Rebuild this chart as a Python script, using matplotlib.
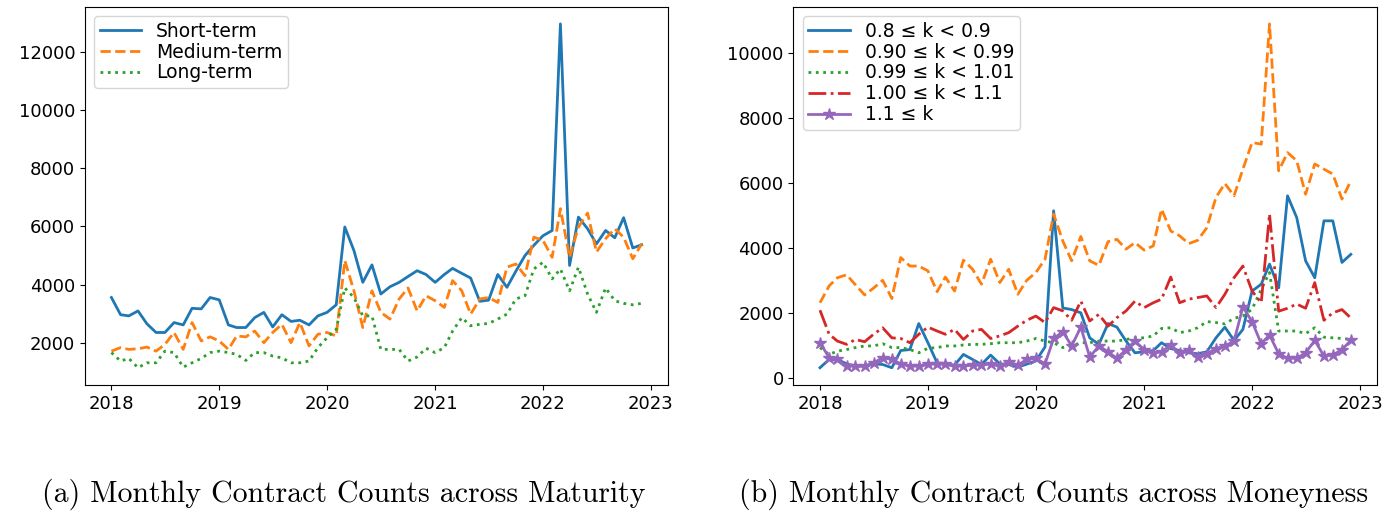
import matplotlib
matplotlib.use("Agg")
import matplotlib.pyplot as plt
import matplotlib.dates as mdates
import pandas as pd

months = pd.date_range("2018-01-01", periods=60, freq="MS")

# Panel (a): counts by maturity
short_term = [3560, 2970, 2930, 3100, 2660, 2360, 2360, 2700, 2620, 3190, 3170, 3560,
              3480, 2620, 2530, 2530, 2870, 3050, 2550, 2970, 2740, 2780, 2620, 2930,
              3050, 3310, 5980, 5170, 4080, 4680, 3680, 3930, 4080, 4280, 4480, 4350,
              4080, 4350, 4560, 4390, 4230, 3430, 3470, 4350, 3910, 4460, 5000, 5350,
              5680, 5860, 12950, 4660, 6320, 5920, 5400, 5860, 5610, 6300, 5260, 5370]
medium_term = [1720, 1840, 1780, 1800, 1860, 1720, 1950, 2360, 1780, 2700, 2070, 2210,
               2070, 1780, 2240, 2210, 2410, 2010, 2360, 2640, 2010, 2700, 1900, 2300,
               2360, 2240, 4830, 3790, 2530, 3790, 3050, 2820, 3510, 3890, 3100, 3620,
               3450, 3220, 4140, 3790, 2990, 3510, 3560, 3390, 4600, 4710, 4310, 5630,
               5520, 4940, 6610, 4940, 5980, 6460, 5120, 5580, 5920, 5630, 4890, 5400]
long_term = [1670, 1380, 1470, 1150, 1320, 1320, 1720, 1670, 1170, 1320, 1470, 1670,
             1720, 1670, 1610, 1400, 1670, 1670, 1550, 1490, 1320, 1320, 1380, 1840,
             2180, 2470, 3890, 3560, 2930, 2930, 1780, 1780, 1780, 1380, 1520, 1820,
             1670, 1840, 2410, 2870, 2590, 2640, 2670, 2820, 2990, 3510, 3620, 4540,
             4770, 4200, 4540, 3790, 4600, 3680, 3050, 3890, 3450, 3360, 3310, 3360]

# Panel (b): counts by moneyness
k_080_090 = [310, 565, 565, 430, 360, 360, 430, 410, 310, 840, 870, 1670,
             1080, 460, 430, 390, 720, 565, 410, 700, 430, 410, 330, 420,
             520, 950, 5140, 2150, 2100, 2000, 1230, 1030, 1670, 1560, 1130, 770,
             800, 840, 1080, 900, 840, 770, 740, 800, 1230, 1560, 1150, 1490,
             2670, 2880, 3500, 2770, 5600, 4930, 3600, 3080, 4830, 4830, 3550, 3800]
k_090_099 = [2310, 2830, 3080, 3170, 2860, 2550, 2760, 3000, 2440, 3700, 3440, 3440,
             3290, 2650, 3100, 2670, 3620, 3340, 2880, 3650, 2930, 3340, 2570, 3000,
             3240, 3650, 5040, 4210, 3600, 4350, 3600, 3460, 4190, 4260, 3960, 4160,
             3930, 4060, 5190, 4520, 4370, 4130, 4230, 4620, 5550, 5980, 5600, 6420,
             7240, 7190, 10890, 6370, 6930, 6680, 5650, 6580, 6420, 6270, 5500, 6060]
k_099_101 = [930, 720, 820, 870, 930, 980, 980, 1050, 930, 930, 870, 770,
             910, 930, 980, 980, 1010, 1030, 1030, 1050, 1080, 1080, 1080, 1130,
             1210, 1130, 1080, 930, 980, 1080, 1080, 1130, 1130, 1130, 1180, 1230,
             1230, 1290, 1520, 1540, 1390, 1440, 1540, 1730, 1700, 1660, 1830, 1900,
             2110, 2720, 3240, 1440, 1440, 1440, 1360, 1540, 1250, 1230, 1210, 1180]
k_100_110 = [2080, 1340, 1130, 1030, 1180, 1110, 1340, 1540, 1230, 1210, 1080, 1340,
             1560, 1440, 1340, 1490, 1180, 1440, 1490, 1210, 1290, 1390, 1590, 1770,
             1900, 1700, 2160, 2060, 1770, 2360, 1750, 1950, 1590, 1850, 2060, 2360,
             2160, 2310, 2420, 3100, 2310, 2420, 2470, 2520, 2160, 2570, 3080, 3440,
             2670, 2310, 5040, 2050, 2140, 2270, 2140, 2930, 1770, 2000, 2100, 1840]
k_110_up = [1080, 620, 565, 360, 360, 360, 460, 620, 565, 430, 360, 360,
            410, 430, 410, 360, 360, 390, 390, 430, 360, 490, 390, 565,
            600, 430, 1210, 1420, 980, 1560, 640, 980, 800, 600, 870, 1130,
            870, 770, 800, 1010, 770, 870, 640, 740, 900, 980, 1130, 2180,
            1730, 1050, 1320, 740, 600, 600, 770, 1150, 670, 700, 870, 1150]

maturity_labels = ["Short-term", "Medium-term", "Long-term"]
moneyness_labels = ["0.8 ≤ k < 0.9", "0.90 ≤ k < 0.99", "0.99 ≤ k < 1.01",
                    "1.00 ≤ k < 1.1", "1.1 ≤ k"]
captions = ["(a) Monthly Contract Counts across Maturity",
            "(b) Monthly Contract Counts across Moneyness"]

fig = plt.figure(figsize=(13.92, 5.16), dpi=100)
ax1 = fig.add_axes([0.061, 0.254, 0.419, 0.733])
ax2 = fig.add_axes([0.570, 0.254, 0.4195, 0.733])

lw = 2.0
ax1.plot(months, short_term, "-", color="tab:blue", lw=lw, label=maturity_labels[0])
ax1.plot(months, medium_term, "--", color="tab:orange", lw=lw, label=maturity_labels[1])
ax1.plot(months, long_term, ":", color="tab:green", lw=lw, label=maturity_labels[2])

ax2.plot(months, k_080_090, "-", color="tab:blue", lw=lw, label=moneyness_labels[0])
ax2.plot(months, k_090_099, "--", color="tab:orange", lw=lw, label=moneyness_labels[1])
ax2.plot(months, k_099_101, ":", color="tab:green", lw=lw, label=moneyness_labels[2])
ax2.plot(months, k_100_110, "-.", color="tab:red", lw=lw, label=moneyness_labels[3])
ax2.plot(months, k_110_up, "-*", color="tab:purple", lw=lw, markersize=9,
         label=moneyness_labels[4])

for ax in (ax1, ax2):
    ax.xaxis.set_major_locator(mdates.YearLocator())
    ax.xaxis.set_major_formatter(mdates.DateFormatter("%Y"))
    ax.tick_params(labelsize=13)
    ax.legend(loc="upper left", fontsize=13.5, labelspacing=0.1,
              borderpad=0.3, handlelength=2.2)

fig.text(0.247, 0.042, captions[0], ha="center", va="center",
         family="cmr10", fontsize=21.5)
fig.text(0.757, 0.042, captions[1], ha="center", va="center",
         family="cmr10", fontsize=21.5)

fig.savefig("out.png", dpi=100)
